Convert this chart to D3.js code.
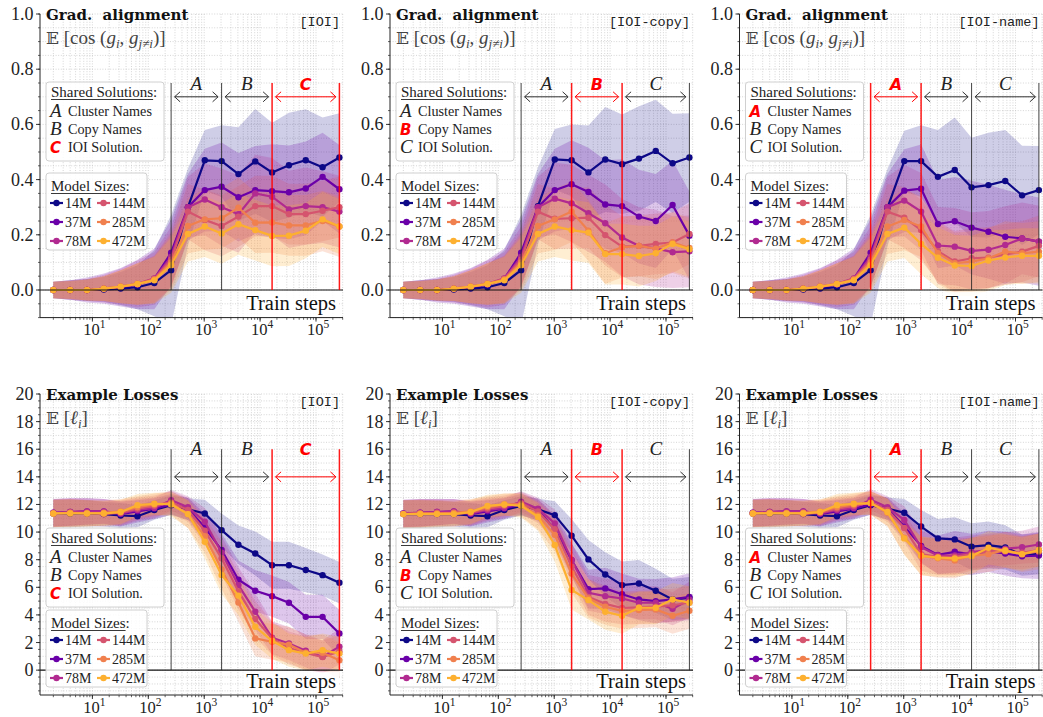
<!DOCTYPE html>
<html>
<head>
<meta charset="utf-8">
<script src="https://d3js.org/d3.v7.min.js"></script>
<style>
  body { margin: 0; background: #fff; }
</style>
</head>
<body>
<svg id="chart" width="1043" height="717" font-family="Liberation Serif, DejaVu Serif, serif"></svg>
<script>
// ---- data ----
const steps = [2, 4, 8, 16, 32, 64, 128, 256, 512, 1024, 2048, 4096, 8192, 16384, 32768, 65536, 131072, 262144];
const sizes = ["14M", "37M", "78M", "144M", "285M", "472M"];
const phaseEdges = [256, 2048, 16384, 262144];
const phases = ["A", "B", "C"];
const phaseNames = ["Cluster Names", "Copy Names", "IOI Solution."];
const xTickExps = [1, 2, 3, 4, 5];
const gradTicks = [0, 0.2, 0.4, 0.6, 0.8, 1.0];
const lossTicks = [0, 2, 4, 6, 8, 10, 12, 14, 16, 18, 20];

// mean gradient alignment, one row per model size
const gradIOI = [
  [0, 0, 0, 0.002, 0.005, 0.01, 0.025, 0.072, 0.30, 0.47, 0.467, 0.42, 0.466, 0.426, 0.452, 0.47, 0.445, 0.48],
  [0, 0, 0, 0.005, 0.01, 0.02, 0.04, 0.135, 0.30, 0.362, 0.374, 0.336, 0.362, 0.358, 0.354, 0.368, 0.41, 0.365],
  [0, 0, 0, 0.005, 0.012, 0.022, 0.042, 0.12, 0.30, 0.328, 0.30, 0.275, 0.35, 0.338, 0.292, 0.304, 0.30, 0.284],
  [0, 0, 0, 0.005, 0.012, 0.022, 0.04, 0.11, 0.284, 0.254, 0.232, 0.266, 0.304, 0.304, 0.275, 0.275, 0.287, 0.30],
  [0, 0, 0, 0.005, 0.012, 0.022, 0.038, 0.10, 0.232, 0.256, 0.26, 0.298, 0.244, 0.245, 0.234, 0.234, 0.25, 0.23],
  [0, 0, 0, 0.005, 0.012, 0.022, 0.035, 0.09, 0.203, 0.23, 0.205, 0.238, 0.217, 0.196, 0.197, 0.215, 0.256, 0.23]
];
const gradCopy = [
  [0, 0, 0, 0.002, 0.005, 0.01, 0.025, 0.072, 0.304, 0.473, 0.47, 0.426, 0.473, 0.456, 0.476, 0.504, 0.459, 0.48],
  [0, 0, 0, 0.005, 0.01, 0.02, 0.04, 0.135, 0.30, 0.362, 0.383, 0.355, 0.31, 0.304, 0.266, 0.25, 0.308, 0.197],
  [0, 0, 0, 0.005, 0.012, 0.022, 0.042, 0.12, 0.30, 0.331, 0.314, 0.278, 0.242, 0.19, 0.16, 0.151, 0.137, 0.14],
  [0, 0, 0, 0.005, 0.012, 0.022, 0.04, 0.11, 0.284, 0.258, 0.26, 0.262, 0.199, 0.157, 0.16, 0.167, 0.172, 0.203],
  [0, 0, 0, 0.005, 0.012, 0.022, 0.038, 0.10, 0.232, 0.256, 0.284, 0.215, 0.133, 0.155, 0.16, 0.15, 0.172, 0.152],
  [0, 0, 0, 0.005, 0.012, 0.022, 0.035, 0.09, 0.203, 0.23, 0.217, 0.208, 0.13, 0.13, 0.123, 0.133, 0.167, 0.148]
];
const gradName = [
  [0, 0, 0, 0.002, 0.005, 0.01, 0.025, 0.072, 0.298, 0.467, 0.467, 0.41, 0.435, 0.372, 0.38, 0.395, 0.343, 0.362],
  [0, 0, 0, 0.005, 0.01, 0.02, 0.04, 0.135, 0.30, 0.36, 0.367, 0.239, 0.249, 0.226, 0.211, 0.193, 0.187, 0.175],
  [0, 0, 0, 0.005, 0.012, 0.022, 0.042, 0.12, 0.30, 0.324, 0.284, 0.161, 0.157, 0.142, 0.146, 0.163, 0.187, 0.175],
  [0, 0, 0, 0.005, 0.012, 0.022, 0.04, 0.11, 0.284, 0.262, 0.217, 0.141, 0.103, 0.115, 0.117, 0.129, 0.139, 0.16],
  [0, 0, 0, 0.005, 0.012, 0.022, 0.038, 0.10, 0.23, 0.254, 0.23, 0.133, 0.097, 0.103, 0.115, 0.139, 0.133, 0.139],
  [0, 0, 0, 0.005, 0.012, 0.022, 0.035, 0.09, 0.203, 0.226, 0.167, 0.117, 0.089, 0.087, 0.107, 0.118, 0.124, 0.124]
];
// spread (band half width) of the gradient alignment
const gradStd = [
  [0.03, 0.035, 0.04, 0.045, 0.06, 0.08, 0.12, 0.2, 0.14, 0.11, 0.13, 0.17, 0.19, 0.18, 0.19, 0.185, 0.18, 0.16],
  [0.03, 0.035, 0.045, 0.055, 0.07, 0.09, 0.11, 0.12, 0.12, 0.15, 0.16, 0.16, 0.16, 0.17, 0.17, 0.17, 0.16, 0.16],
  [0.03, 0.035, 0.04, 0.05, 0.065, 0.085, 0.095, 0.11, 0.11, 0.13, 0.14, 0.14, 0.14, 0.14, 0.14, 0.14, 0.13, 0.13],
  [0.03, 0.033, 0.038, 0.045, 0.06, 0.075, 0.085, 0.10, 0.10, 0.11, 0.11, 0.11, 0.11, 0.11, 0.11, 0.11, 0.11, 0.11],
  [0.03, 0.033, 0.038, 0.045, 0.06, 0.075, 0.085, 0.10, 0.10, 0.11, 0.11, 0.11, 0.11, 0.11, 0.11, 0.11, 0.11, 0.11],
  [0.03, 0.033, 0.038, 0.045, 0.06, 0.075, 0.085, 0.10, 0.10, 0.11, 0.11, 0.11, 0.11, 0.11, 0.11, 0.10, 0.10, 0.10]
];

// mean example loss, one row per model size
const lossIOI = [
  [11.35, 11.35, 11.35, 11.3, 11.2, 11.15, 11.6, 11.95, 11.65, 11.35, 10.14, 9.08, 8.45, 7.6, 7.6, 7.25, 6.88, 6.33],
  [11.4, 11.45, 11.5, 11.5, 11.3, 11.5, 11.7, 12.0, 11.7, 10.34, 8.7, 6.55, 5.75, 5.36, 4.88, 3.86, 3.86, 2.66],
  [11.4, 11.45, 11.5, 11.5, 11.35, 11.6, 11.75, 12.3, 11.8, 10.75, 8.5, 6.16, 4.23, 2.35, 1.93, 1.4, 0.97, 1.7],
  [11.35, 11.4, 11.4, 11.3, 11.4, 11.7, 11.9, 12.15, 11.6, 10.1, 8.1, 5.7, 3.7, 2.3, 1.6, 1.25, 0.95, 1.35],
  [11.35, 11.4, 11.35, 11.4, 11.5, 11.8, 12.0, 12.1, 11.3, 9.7, 7.3, 4.9, 2.3, 2.05, 1.85, 1.26, 1.26, 0.72],
  [11.35, 11.35, 11.35, 11.35, 11.45, 11.95, 12.05, 12.0, 11.3, 9.3, 6.9, 5.4, 3.14, 2.13, 1.45, 1.2, 1.45, 1.2]
];
const lossCopy = [
  [11.3, 11.3, 11.3, 11.3, 11.2, 11.15, 11.6, 11.9, 11.64, 11.23, 9.74, 8.02, 6.93, 6.16, 6.28, 5.75, 5.12, 5.24],
  [11.35, 11.4, 11.45, 11.5, 11.3, 11.5, 11.7, 12.0, 11.6, 10.2, 7.97, 5.87, 5.92, 5.5, 5.12, 5.0, 5.12, 5.31],
  [11.35, 11.4, 11.45, 11.5, 11.35, 11.6, 11.75, 12.2, 11.7, 10.63, 8.0, 5.6, 5.36, 5.19, 4.88, 4.88, 4.45, 5.1],
  [11.3, 11.35, 11.4, 11.3, 11.4, 11.7, 11.9, 12.1, 11.5, 10.2, 7.5, 5.3, 4.8, 4.5, 4.55, 4.6, 4.7, 4.9],
  [11.3, 11.35, 11.35, 11.4, 11.5, 11.8, 12.0, 12.0, 11.2, 9.8, 7.0, 5.2, 4.59, 4.3, 4.35, 4.4, 3.94, 4.3],
  [11.3, 11.3, 11.3, 11.3, 11.45, 11.9, 12.0, 11.9, 11.1, 9.06, 5.8, 5.07, 4.23, 3.94, 4.52, 4.52, 5.12, 4.88]
];
const lossName = [
  [11.35, 11.35, 11.35, 11.3, 11.2, 11.15, 11.6, 11.95, 11.7, 11.4, 10.4, 9.54, 9.47, 8.94, 9.06, 8.89, 8.33, 8.45],
  [11.4, 11.45, 11.5, 11.5, 11.3, 11.5, 11.7, 12.0, 11.7, 10.4, 9.0, 8.35, 8.57, 8.38, 8.6, 8.45, 8.25, 8.3],
  [11.4, 11.45, 11.5, 11.5, 11.35, 11.6, 11.75, 12.35, 11.8, 10.87, 8.9, 8.3, 8.3, 8.55, 8.7, 8.8, 8.9, 9.1],
  [11.35, 11.4, 11.4, 11.3, 11.4, 11.7, 11.9, 12.15, 11.6, 10.3, 8.4, 8.2, 8.2, 8.4, 8.6, 8.6, 8.5, 8.7],
  [11.35, 11.4, 11.35, 11.4, 11.5, 11.8, 12.0, 12.1, 11.4, 9.6, 8.3, 8.1, 7.95, 8.3, 8.4, 8.7, 8.4, 8.6],
  [11.35, 11.35, 11.35, 11.35, 11.45, 11.95, 12.05, 12.1, 11.45, 9.54, 8.28, 8.16, 8.09, 8.26, 8.86, 8.65, 8.4, 8.7]
];
const lossStd = [
  [1.0, 1.0, 0.95, 0.9, 0.9, 0.8, 0.7, 0.7, 0.8, 1.0, 1.2, 1.4, 1.6, 1.7, 1.7, 1.6, 1.5, 1.5],
  [1.0, 1.0, 0.95, 0.9, 0.9, 0.8, 0.75, 0.75, 0.8, 1.0, 1.2, 1.4, 1.5, 1.5, 1.5, 1.6, 1.6, 1.7],
  [1.0, 1.0, 0.95, 0.9, 0.9, 0.8, 0.75, 0.75, 0.8, 1.0, 1.2, 1.3, 1.3, 1.2, 1.2, 1.2, 1.2, 1.3],
  [1.0, 1.0, 0.95, 0.9, 0.9, 0.8, 0.75, 0.8, 0.85, 1.0, 1.2, 1.3, 1.3, 1.2, 1.2, 1.2, 1.2, 1.2],
  [1.0, 1.0, 0.95, 0.9, 0.9, 0.8, 0.8, 0.85, 1.0, 1.2, 1.4, 1.4, 1.3, 1.3, 1.3, 1.3, 1.3, 1.3],
  [1.0, 1.0, 0.95, 0.9, 0.9, 0.8, 0.8, 0.85, 1.0, 1.2, 1.4, 1.4, 1.3, 1.3, 1.2, 1.2, 1.2, 1.2]
];

// ---- styling / layout ----
const colors = ["#0d0887", "#6a00a8", "#b12a90", "#d5546e", "#f0804e", "#fdb030"];
const svg = d3.select("#chart");
const colLefts = [40, 390, 739.5];
const panelW = 303;
const RED = "#ff0000";
const SANS = "DejaVu Sans, sans-serif";

const rows = [
  { top: 14, bottom: 317.6, domain: [-0.1, 1.0], ticks: gradTicks, fmt: d3.format(".1f"), minor: 0.05,
    title: "Grad.  alignment", vTop: 0.75, arrowY: 0.70, labelY: 0.725, std: gradStd,
    leg1: 68, leg2: 159, math: "grad" },
  { top: 394, bottom: 695, domain: [-1.8, 20], ticks: lossTicks, fmt: d3.format("d"), minor: 0.5,
    title: "Example Losses", vTop: 16, arrowY: 14, labelY: 15.6, std: lossStd,
    leg1: 134, leg2: 216, math: "loss" }
];

const panels = [
  { row: 0, col: 0, means: gradIOI, tag: "[IOI]", hi: 2 },
  { row: 0, col: 1, means: gradCopy, tag: "[IOI-copy]", hi: 1 },
  { row: 0, col: 2, means: gradName, tag: "[IOI-name]", hi: 0 },
  { row: 1, col: 0, means: lossIOI, tag: "[IOI]", hi: 2 },
  { row: 1, col: 1, means: lossCopy, tag: "[IOI-copy]", hi: 1 },
  { row: 1, col: 2, means: lossName, tag: "[IOI-name]", hi: 0 }
];

function phaseLetter(sel, red, size) {
  if (red) sel.attr("fill", RED).attr("font-family", SANS).attr("font-weight", "bold")
    .attr("font-style", "italic").attr("font-size", size);
  else sel.attr("fill", "#222").attr("font-style", "italic").attr("font-size", 19);
}

panels.forEach((p, pi) => {
  const r = rows[p.row];
  const left = colLefts[p.col], right = left + panelW;
  const x = d3.scaleLog().domain([1.155, 304000]).range([left, right]);
  const y = d3.scaleLinear().domain(r.domain).range([r.bottom, r.top]);
  const g = svg.append("g");

  // dotted grid
  const gx = [];
  for (let d = 0; d <= 5; d++) for (let m = 1; m <= 9; m++) {
    const v = m * Math.pow(10, d);
    if (v >= x.domain()[0] && v <= x.domain()[1]) gx.push(v);
  }
  g.selectAll(".gx").data(gx).join("line")
    .attr("x1", d => x(d)).attr("x2", d => x(d))
    .attr("y1", r.top).attr("y2", r.bottom)
    .attr("stroke", "#c4c4c4").attr("stroke-width", 0.7).attr("stroke-dasharray", "1 1.6");
  const gy = d3.range(Math.ceil(r.domain[0] / r.minor) * r.minor, r.domain[1] + 1e-9, r.minor);
  g.selectAll(".gy").data(gy).join("line")
    .attr("x1", left).attr("x2", right)
    .attr("y1", d => y(d)).attr("y2", d => y(d))
    .attr("stroke", "#c4c4c4").attr("stroke-width", 0.7).attr("stroke-dasharray", "1 1.6");

  // clip
  const cid = "clip" + pi;
  svg.append("clipPath").attr("id", cid).append("rect")
    .attr("x", left).attr("y", r.top).attr("width", panelW).attr("height", r.bottom - r.top);
  const plot = g.append("g").attr("clip-path", `url(#${cid})`);

  // bands
  p.means.forEach((m, si) => {
    const area = d3.area()
      .x((d, i) => x(steps[i]))
      .y0((d, i) => y(d - r.std[si][i]))
      .y1((d, i) => y(d + r.std[si][i]));
    plot.append("path").datum(m).attr("d", area)
      .attr("fill", colors[si]).attr("fill-opacity", si === 0 ? 0.2 : 0.22);
  });

  // zero line
  g.append("line").attr("x1", left).attr("x2", right).attr("y1", y(0)).attr("y2", y(0))
    .attr("stroke", "#111").attr("stroke-width", 1.2);

  // "Train steps" label with white box
  const ts = g.append("text").attr("x", right - 7).attr("y", r.bottom - 7.5)
    .attr("text-anchor", "end").attr("font-size", 20.5).attr("fill", "#111").text("Train steps");
  const tb = ts.node().getBBox();
  g.insert("rect", () => ts.node()).attr("x", tb.x - 3).attr("y", y(0) + 1.5)
    .attr("width", tb.width + 6).attr("height", r.bottom - y(0) - 2)
    .attr("fill", "#fff").attr("fill-opacity", 0.85);

  // lines and markers
  p.means.forEach((m, si) => {
    const line = d3.line().x((d, i) => x(steps[i])).y(d => y(d));
    plot.append("path").datum(m).attr("d", line)
      .attr("fill", "none").attr("stroke", colors[si]).attr("stroke-width", 2.2);
    plot.selectAll(null).data(m).join("circle")
      .attr("cx", (d, i) => x(steps[i])).attr("cy", d => y(d)).attr("r", 3.2)
      .attr("fill", colors[si]);
  });

  // phase boundaries
  phaseEdges.forEach((e, i) => {
    const red = (i === p.hi || i === p.hi + 1);
    g.append("line").attr("x1", x(e)).attr("x2", x(e))
      .attr("y1", y(r.vTop)).attr("y2", y(0))
      .attr("stroke", red ? RED : "#222").attr("stroke-opacity", red ? 0.9 : 0.85)
      .attr("stroke-width", red ? 1.5 : 1);
  });

  // phase arrows + letters
  phases.forEach((ph, i) => {
    const red = i === p.hi;
    const c = red ? RED : "#333";
    const x0 = x(phaseEdges[i]) + 3.5, x1 = x(phaseEdges[i + 1]) - 3.5, ay = y(r.arrowY);
    g.append("path")
      .attr("d", `M${x0},${ay}H${x1}M${x0 + 5.5},${ay - 5}L${x0},${ay}L${x0 + 5.5},${ay + 5}` +
        `M${x1 - 5.5},${ay - 5}L${x1},${ay}L${x1 - 5.5},${ay + 5}`)
      .attr("fill", "none").attr("stroke", c).attr("stroke-width", 1);
    const t = g.append("text").attr("x", (x(phaseEdges[i]) + x(phaseEdges[i + 1])) / 2)
      .attr("y", y(r.labelY)).attr("text-anchor", "middle").text(ph);
    phaseLetter(t, red, 16);
  });

  // axes: left + bottom spine, ticks
  g.append("line").attr("x1", left).attr("x2", left).attr("y1", r.top).attr("y2", r.bottom)
    .attr("stroke", "#222").attr("stroke-width", 1);
  g.append("line").attr("x1", left).attr("x2", right).attr("y1", r.bottom).attr("y2", r.bottom)
    .attr("stroke", "#222").attr("stroke-width", 1);
  g.selectAll(".ymin").data(gy).join("line")
    .attr("x1", left - 2).attr("x2", left).attr("y1", d => y(d)).attr("y2", d => y(d))
    .attr("stroke", "#222").attr("stroke-width", 0.7);
  g.selectAll(".ymaj").data(r.ticks).join("line")
    .attr("x1", left - 4).attr("x2", left).attr("y1", d => y(d)).attr("y2", d => y(d))
    .attr("stroke", "#222").attr("stroke-width", 0.9);
  g.selectAll(".ylab").data(r.ticks).join("text")
    .attr("x", left - 6.5).attr("y", d => y(d) + 6).attr("text-anchor", "end")
    .attr("font-size", 18).attr("fill", "#222").text(r.fmt);
  g.selectAll(".xmin").data(gx).join("line")
    .attr("x1", d => x(d)).attr("x2", d => x(d)).attr("y1", r.bottom).attr("y2", r.bottom + 2.2)
    .attr("stroke", "#222").attr("stroke-width", 0.7);
  const xl = g.selectAll(".xlab").data(xTickExps).join("g");
  xl.append("line").attr("x1", d => x(Math.pow(10, d))).attr("x2", d => x(Math.pow(10, d)))
    .attr("y1", r.bottom).attr("y2", r.bottom + 4).attr("stroke", "#222").attr("stroke-width", 0.9);
  const xt = xl.append("text").attr("x", d => x(Math.pow(10, d)) + 2).attr("y", r.bottom + 17.5)
    .attr("text-anchor", "middle").attr("font-size", 16.5).attr("fill", "#222");
  xt.append("tspan").text("10");
  xt.append("tspan").attr("dy", -7).attr("font-size", 11.5).text(d => d);

  // title, math label, tag
  g.append("text").attr("x", left + 6).attr("y", r.top + 6).attr("font-weight", "bold")
    .attr("font-family", "DejaVu Serif, serif").attr("font-size", 15).attr("fill", "#111")
    .attr("xml:space", "preserve").text(r.title);
  const mt = g.append("text").attr("x", left + 6).attr("y", r.top + 30).attr("font-size", 19).attr("fill", "#444");
  mt.append("tspan").attr("font-family", "DejaVu Serif, DejaVu Sans, serif").attr("font-size", 17).text("𝔼");
  if (r.math === "grad") {
    mt.append("tspan").text(" [cos (");
    mt.append("tspan").attr("font-style", "italic").text("g");
    mt.append("tspan").attr("font-style", "italic").attr("font-size", 13).attr("dy", 4).text("i");
    mt.append("tspan").attr("dy", -4).text(", ");
    mt.append("tspan").attr("font-style", "italic").text("g");
    mt.append("tspan").attr("font-style", "italic").attr("font-size", 13).attr("dy", 4).text("j≠i");
    mt.append("tspan").attr("dy", -4).text(")]");
  } else {
    mt.append("tspan").text(" [");
    mt.append("tspan").attr("font-style", "italic").text("ℓ");
    mt.append("tspan").attr("font-style", "italic").attr("font-size", 13).attr("dy", 4).text("i");
    mt.append("tspan").attr("dy", -4).text("]");
  }
  g.append("text").attr("x", right - 3).attr("y", r.top + 12).attr("text-anchor", "end")
    .attr("font-family", "Liberation Mono, DejaVu Sans Mono, monospace").attr("font-size", 13.5)
    .attr("fill", "#222").text(p.tag);

  // legend 1: shared solutions
  const bx = left + 6, b1 = r.top + r.leg1;
  g.append("rect").attr("x", bx).attr("y", b1).attr("width", 118).attr("height", 79).attr("rx", 3)
    .attr("fill", "#fff").attr("fill-opacity", 0.85).attr("stroke", "#d0d0d0");
  const h1 = g.append("text").attr("x", bx + 5).attr("y", b1 + 15).attr("font-size", 15).attr("fill", "#222");
  const h1a = h1.append("tspan").text("Shared Solutions");
  h1.append("tspan").text(":");
  const w1 = h1a.node().getComputedTextLength();
  g.append("line").attr("x1", bx + 5).attr("x2", bx + 5 + w1).attr("y1", b1 + 17.5).attr("y2", b1 + 17.5)
    .attr("stroke", "#222").attr("stroke-width", 0.9);
  phases.forEach((ph, i) => {
    const yy = b1 + 35 + i * 18;
    const t = g.append("text").attr("x", bx + 4).attr("y", yy).text(ph);
    phaseLetter(t, i === p.hi, 15);
    g.append("text").attr("x", bx + 22).attr("y", yy - 1).attr("font-size", 14.2).attr("fill", "#222")
      .text(phaseNames[i]);
  });

  // legend 2: model sizes
  const b2 = r.top + r.leg2;
  g.append("rect").attr("x", bx).attr("y", b2).attr("width", 101).attr("height", 77).attr("rx", 3)
    .attr("fill", "#fff").attr("fill-opacity", 0.85).attr("stroke", "#d0d0d0");
  const h2 = g.append("text").attr("x", bx + 5).attr("y", b2 + 18).attr("font-size", 15).attr("fill", "#222");
  const h2a = h2.append("tspan").text("Model Sizes");
  h2.append("tspan").text(":");
  const w2 = h2a.node().getComputedTextLength();
  g.append("line").attr("x1", bx + 5).attr("x2", bx + 5 + w2).attr("y1", b2 + 20.5).attr("y2", b2 + 20.5)
    .attr("stroke", "#222").attr("stroke-width", 0.9);
  sizes.forEach((s, si) => {
    const cx = bx + (si < 3 ? 4 : 51), yy = b2 + 30 + (si % 3) * 19;
    g.append("line").attr("x1", cx).attr("x2", cx + 13).attr("y1", yy).attr("y2", yy)
      .attr("stroke", colors[si]).attr("stroke-width", 2.2);
    g.append("circle").attr("cx", cx + 6.5).attr("cy", yy).attr("r", 3.2).attr("fill", colors[si]);
    g.append("text").attr("x", cx + 15).attr("y", yy + 4.5).attr("font-size", 14).attr("fill", "#222").text(s);
  });
});
</script>
</body>
</html>
